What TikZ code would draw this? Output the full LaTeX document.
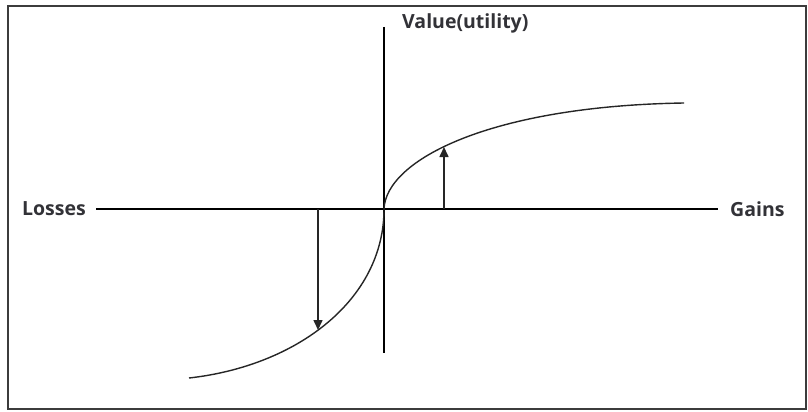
\documentclass[tikz,border=0pt]{standalone}
\usepackage{fontspec}
\setmainfont{Open Sans}
\usepackage{tikz}
\usetikzlibrary{positioning,arrows.meta}
\definecolor{framegray}{RGB}{60,60,60}
\definecolor{labelgray}{RGB}{50,50,55}
\tikzset{
  axis/.style={line width=1.8pt, black},
  curve/.style={line width=1.4pt, black!85},
  axislabel/.style={font=\fontsize{19.5}{22}\selectfont\bfseries, text=labelgray, inner sep=0pt},
  arrow/.style={-{Triangle[length=10pt,width=9pt]}, line width=1.6pt, black!85},
}

\begin{document}
\begin{tikzpicture}[x=1pt, y=-1pt]
  \useasboundingbox (0,0) rectangle (808,412);
  % frame
  \draw[framegray, line width=1.6pt] (8,6) rectangle (806,409);

  % axes
  \coordinate (O) at (384,209);
  \coordinate (xl) at (96,209);
  \coordinate (xr) at (718,209);
  \coordinate (yt) at (384,27);
  \coordinate (yb) at (384,353);
  \node[axislabel, left=10pt of xl] (losses) {Losses};
  \node[axislabel, right=12pt of xr] (gains) {Gains};
  \node[axislabel, anchor=base west] (value) at (402,29) {Value(utility)};

  \draw[axis] (xl) -- (xr);
  \draw[axis] (yt) -- (yb);

  % value function
  \coordinate (gend) at (684,103);
  \coordinate (lend) at (189,378);
  \draw[curve] (O) .. controls (386,160) and (490,106) .. (gend);
  \draw[curve] (O) .. controls (384,300) and (297,366) .. (lend);

  % arrows to the curve
  \coordinate (g0) at (444,209);
  \coordinate (g1) at (444,147);
  \coordinate (l0) at (318,209);
  \coordinate (l1) at (318,330);
  \draw[arrow] (g0) -- (g1);
  \draw[arrow] (l0) -- (l1);
\end{tikzpicture}
\end{document}
